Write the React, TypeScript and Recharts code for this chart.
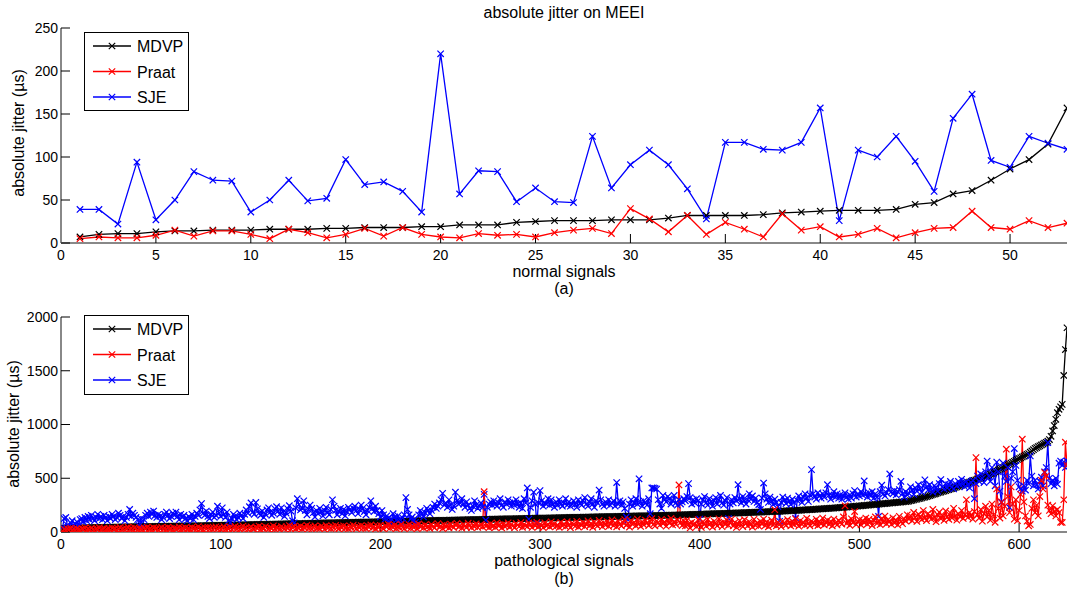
import React from "react";
import { LineChart, Line, XAxis, YAxis } from "recharts";

// (a) normal signals, 53 recordings
const normalMdvp = [
  7, 10, 11, 11, 13, 14, 14, 15, 15, 15, 16, 16, 16, 17, 17, 18, 18, 18, 19, 19,
  21, 21, 21, 24, 25, 26, 26, 26, 27, 27, 27, 29, 32, 32, 32, 32, 33, 35, 36, 37,
  38, 38, 38, 39, 45, 47, 57, 61, 73, 86, 97, 115, 157,
];
const normalPraat = [
  5, 7, 6, 6, 9, 15, 8, 14, 14, 10, 5, 16, 12, 6, 10, 17, 8, 18, 10, 7,
  6, 11, 9, 10, 7, 12, 15, 17, 11, 40, 28, 13, 32, 10, 24, 16, 7, 34, 15, 19,
  7, 10, 17, 6, 12, 17, 18, 37, 18, 16, 26, 18, 23,
];
const normalSje = [
  39, 39, 22, 94, 27, 50, 83, 73, 72, 36, 50, 73, 49, 52, 97, 68, 71, 60, 36, 220,
  57, 84, 83, 48, 64, 48, 47, 124, 64, 91, 108, 91, 63, 28, 117, 117, 109, 108, 117, 157,
  26, 108, 100, 124, 95, 60, 145, 173, 96, 88, 124, 116, 109,
];

// (b) pathological signals, 630 recordings
const patholMdvp = [
  33, 34, 34, 35, 35, 36, 36, 37, 37, 38, 38, 38, 39, 39, 39, 40, 40, 40, 41, 41,
  41, 42, 42, 42, 43, 43, 43, 44, 44, 44, 45, 45, 45, 46, 46, 46, 46, 47, 47, 47,
  47, 48, 48, 48, 48, 49, 49, 49, 49, 50, 50, 50, 50, 50, 51, 51, 51, 51, 52, 52,
  52, 52, 52, 53, 53, 53, 53, 54, 54, 54, 54, 55, 55, 55, 55, 56, 56, 56, 56, 57,
  57, 57, 57, 58, 58, 58, 58, 59, 59, 59, 59, 60, 60, 60, 61, 61, 61, 61, 62, 62,
  62, 63, 63, 63, 64, 64, 64, 65, 65, 65, 66, 66, 66, 67, 67, 67, 68, 68, 68, 69,
  69, 69, 70, 70, 70, 71, 71, 71, 72, 72, 72, 73, 73, 73, 74, 74, 74, 75, 75, 75,
  76, 76, 76, 77, 77, 77, 78, 78, 78, 79, 79, 79, 80, 80, 80, 81, 81, 81, 82, 82,
  82, 83, 83, 83, 84, 84, 84, 85, 85, 85, 86, 86, 86, 87, 87, 87, 88, 88, 88, 89,
  89, 89, 90, 90, 90, 91, 91, 91, 92, 92, 92, 93, 93, 93, 94, 94, 94, 95, 95, 95,
  96, 96, 96, 97, 97, 97, 98, 98, 98, 99, 99, 99, 100, 100, 100, 101, 101, 101, 102, 102,
  102, 103, 103, 103, 104, 104, 104, 105, 105, 105, 106, 106, 106, 107, 107, 107, 108, 108, 108, 109,
  109, 109, 110, 110, 110, 111, 111, 111, 112, 112, 112, 113, 113, 113, 114, 114, 114, 115, 115, 115,
  116, 116, 116, 117, 117, 117, 118, 118, 118, 119, 119, 119, 120, 120, 120, 121, 121, 121, 122, 122,
  122, 123, 123, 123, 124, 124, 124, 125, 125, 125, 126, 126, 126, 127, 127, 127, 128, 128, 128, 129,
  129, 129, 130, 130, 130, 131, 131, 131, 132, 132, 132, 133, 133, 133, 134, 134, 134, 135, 135, 135,
  136, 136, 136, 137, 137, 137, 138, 138, 138, 139, 139, 139, 140, 140, 140, 141, 141, 141, 142, 142,
  142, 143, 143, 143, 144, 144, 144, 145, 145, 145, 146, 146, 146, 147, 147, 147, 148, 148, 148, 149,
  149, 149, 150, 150, 150, 151, 151, 151, 152, 152, 152, 153, 153, 153, 154, 154, 154, 155, 155, 155,
  156, 156, 157, 157, 158, 158, 159, 159, 160, 160, 161, 161, 162, 162, 163, 163, 164, 164, 165, 165,
  166, 166, 167, 167, 168, 168, 169, 169, 170, 170, 171, 171, 172, 172, 173, 173, 174, 174, 175, 175,
  176, 176, 177, 177, 178, 178, 179, 180, 180, 181, 181, 182, 183, 183, 184, 184, 185, 186, 186, 187,
  187, 188, 189, 189, 190, 191, 191, 192, 193, 193, 194, 195, 195, 196, 197, 198, 198, 199, 200, 201,
  201, 202, 203, 204, 205, 205, 206, 207, 208, 209, 210, 211, 212, 213, 214, 215, 216, 217, 218, 219,
  220, 221, 222, 223, 224, 225, 227, 228, 229, 230, 231, 232, 234, 235, 236, 237, 239, 240, 241, 243,
  244, 245, 247, 248, 250, 251, 252, 254, 255, 257, 258, 259, 261, 262, 264, 265, 266, 268, 269, 271,
  272, 273, 275, 276, 278, 279, 280, 282, 283, 285, 288, 292, 295, 299, 303, 306, 310, 313, 317, 321,
  325, 330, 334, 339, 344, 349, 353, 358, 363, 368, 372, 377, 381, 386, 391, 395, 400, 404, 409, 414,
  419, 425, 431, 436, 442, 447, 453, 459, 464, 470, 475, 481, 486, 492, 497, 503, 508, 514, 519, 525,
  532, 539, 546, 553, 560, 568, 576, 584, 592, 600, 608, 616, 624, 632, 640, 649, 658, 666, 675, 683,
  690, 698, 706, 714, 722, 730, 742, 754, 766, 778, 786, 794, 802, 810, 818, 826, 834, 845, 860, 890,
  940, 990, 1048, 1110, 1141, 1165, 1187, 1456, 1697, 1900,
];
const patholPraat = [
  10, 25, 15, 30, 20, 35, 12, 28, 18, 32, 22, 15, 30, 25, 38, 18, 28, 20, 35, 24,
  15, 30, 22, 40, 18, 28, 35, 20, 26, 32, 18, 38, 25, 30, 15, 28, 42, 22, 32, 20,
  30, 45, 25, 35, 20, 40, 28, 18, 34, 26, 22, 38, 30, 45, 25, 32, 20, 40, 28, 35,
  18, 30, 42, 25, 35, 22, 45, 28, 32, 20, 38, 26, 30, 48, 22, 35, 28, 40, 25, 32,
  20, 42, 30, 36, 25, 50, 28, 34, 22, 40, 30, 45, 26, 38, 20, 34, 48, 28, 40, 25,
  32, 50, 24, 38, 30, 45, 22, 36, 52, 28, 40, 26, 35, 55, 30, 42, 25, 38, 48, 32,
  28, 45, 35, 55, 22, 40, 30, 50, 36, 26, 42, 32, 58, 28, 45, 36, 24, 50, 38, 30,
  48, 34, 60, 26, 40, 52, 30, 44, 36, 55, 28, 46, 38, 62, 32, 50, 26, 42, 58, 35,
  40, 30, 55, 45, 25, 60, 38, 48, 32, 52, 36, 62, 42, 28, 50, 40, 58, 34, 46, 30,
  55, 38, 64, 44, 30, 52, 40, 60, 36, 48, 32, 58, 45, 66, 38, 50, 28, 56, 42, 62,
  40, 30, 60, 48, 70, 36, 55, 42, 65, 32, 50, 40, 72, 46, 30, 58, 44, 68, 36, 54,
  42, 62, 30, 75, 48, 56, 38, 66, 44, 52, 34, 70, 50, 40, 62, 78, 45, 55, 32, 68,
  48, 60, 38, 74, 52, 42, 66, 80, 46, 58, 36, 70, 54, 44, 82, 60, 40, 64, 50, 76,
  42, 58, 70, 48, 375, 55, 66, 40, 78, 52, 60, 44, 84, 56, 68, 38, 74, 50, 62, 86,
  46, 70, 58, 40, 80, 64, 52, 88, 44, 72, 60, 50, 84, 66, 42, 76, 58, 90, 48, 70,
  62, 40, 86, 56, 72, 48, 94, 60, 78, 52, 66, 44, 90, 58, 76, 50, 96, 64, 40, 82,
  70, 54, 100, 46, 78, 62, 88, 50, 72, 104, 58, 80, 44, 92, 68, 56, 108, 74, 50, 86,
  64, 96, 52, 78, 112, 60, 84, 48, 100, 70, 56, 88, 116, 62, 80, 46, 104, 72, 90, 58,
  120, 76, 52, 94, 66, 110, 84, 60, 98, 124, 70, 56, 102, 86, 64, 118, 78, 94, 54, 108,
  82, 126, 66, 96, 72, 112, 438, 88, 60, 104, 56, 110, 72, 38, 90, 64, 80, 50, 114, 70,
  42, 96, 76, 54, 118, 68, 86, 46, 100, 74, 58, 122, 80, 50, 94, 72, 110, 62, 88, 120,
  58, 88, 42, 74, 106, 66, 50, 114, 80, 56, 94, 70, 46, 118, 62, 86, 54, 100, 74, 120,
  60, 92, 48, 80, 110, 66, 207, 58, 90, 70, 50, 102, 74, 62, 116, 84, 56, 98, 68, 122,
  80, 54, 106, 72, 90, 64, 126, 78, 58, 100, 86, 70, 118, 60, 96, 76, 130, 66, 88, 110,
  72, 100, 58, 120, 82, 66, 108, 90, 74, 140, 244, 80, 104, 62, 122, 88, 190, 70, 98, 114,
  66, 106, 86, 130, 74, 118, 94, 60, 110, 140, 80, 102, 68, 126, 90, 148, 76, 116, 98, 70,
  132, 84, 110, 66, 146, 96, 78, 122, 102, 160, 120, 150, 104, 182, 136, 98, 166, 142, 116, 200,
  130, 106, 172, 148, 120, 210, 138, 96, 160, 184, 124, 152, 108, 196, 140, 118, 176, 132, 220, 150,
  110, 168, 142, 200, 126, 160, 300, 136, 180, 150, 120, 190, 692, 160, 130, 210, 100, 170, 240, 140,
  200, 110, 260, 160, 90, 400, 220, 130, 280, 150, 240, 770, 330, 180, 420, 260, 120, 300, 105, 200,
  350, 863, 280, 150, 100, 58, 70, 220, 300, 180, 250, 150, 330, 480, 400, 553, 520, 250, 200, 170,
  244, 190, 150, 210, 180, 90, 89, 300, 835, 620,
];
const patholSje = [
  45, 125, 135, 65, 50, 85, 105, 55, 75, 95, 65, 115, 125, 95, 135, 105, 145, 115, 155, 125,
  105, 135, 165, 125, 145, 115, 155, 135, 105, 145, 125, 165, 145, 115, 135, 175, 155, 125, 145, 105,
  135, 165, 210, 145, 175, 155, 135, 115, 60, 125, 50, 115, 155, 175, 145, 185, 165, 195, 155, 135,
  165, 145, 115, 135, 165, 185, 155, 125, 145, 175, 155, 185, 145, 115, 165, 135, 155, 125, 105, 145,
  125, 165, 115, 145, 175, 155, 205, 265, 175, 155, 195, 145, 125, 165, 185, 135, 155, 240, 175, 145,
  225, 165, 135, 185, 105, 85, 125, 165, 145, 115, 135, 175, 155, 125, 165, 205, 175, 235, 270, 185,
  165, 275, 215, 175, 155, 195, 135, 165, 205, 225, 185, 155, 175, 215, 235, 195, 165, 225, 185, 145,
  175, 215, 245, 195, 105, 85, 225, 310, 255, 205, 220, 290, 200, 160, 210, 250, 220, 180, 140, 200,
  170, 220, 190, 150, 200, 230, 180, 160, 210, 300, 240, 200, 160, 190, 220, 170, 210, 150, 190, 230,
  210, 180, 220, 240, 200, 170, 210, 250, 220, 190, 160, 200, 230, 290, 220, 190, 240, 200, 170, 140,
  200, 160, 120, 150, 130, 90, 120, 170, 140, 110, 150, 120, 80, 130, 160, 320, 210, 160, 120, 140,
  110, 90, 70, 160, 200, 170, 140, 180, 220, 200, 170, 200, 230, 260, 220, 240, 270, 300, 360, 250,
  270, 230, 300, 250, 210, 240, 370, 290, 260, 270, 310, 260, 230, 280, 250, 220, 200, 240, 290, 250,
  220, 240, 270, 230, 350, 110, 230, 260, 280, 250, 290, 260, 240, 270, 310, 250, 230, 280, 260, 300,
  270, 240, 280, 250, 300, 260, 230, 270, 220, 310, 270, 410, 120, 230, 290, 370, 260, 80, 270, 385,
  290, 240, 270, 260, 310, 250, 300, 260, 230, 280, 250, 300, 260, 240, 270, 310, 250, 280, 240, 260,
  290, 260, 230, 300, 270, 250, 290, 320, 260, 240, 280, 310, 260, 230, 290, 270, 390, 300, 260, 240,
  280, 260, 300, 250, 270, 290, 240, 460, 260, 290, 250, 280, 220, 140, 115, 260, 300, 240, 270, 310,
  260, 495, 280, 240, 290, 270, 250, 310, 170, 410, 410, 405, 400, 300, 260, 220, 340, 300, 280, 330,
  310, 260, 290, 340, 270, 250, 300, 260, 280, 310, 290, 330, 450, 320, 260, 300, 270, 310, 290, 120,
  260, 300, 330, 270, 250, 310, 280, 240, 290, 320, 260, 300, 340, 270, 250, 290, 320, 125, 260, 300,
  270, 320, 290, 440, 310, 270, 330, 290, 260, 300, 355, 305, 335, 285, 315, 275, 255, 210, 315, 455,
  355, 305, 275, 325, 285, 255, 305, 275, 235, 100, 275, 325, 295, 265, 315, 285, 255, 305, 275, 130,
  295, 335, 305, 275, 325, 355, 315, 285, 345, 580, 355, 325, 305, 365, 335, 315, 355, 325, 365, 440,
  345, 305, 335, 375, 325, 355, 315, 345, 305, 335, 365, 325, 305, 345, 315, 355, 385, 325, 355, 335,
  375, 345, 475, 355, 325, 365, 335, 375, 315, 355, 325, 145, 375, 435, 355, 335, 365, 395, 540, 375,
  355, 385, 345, 375, 395, 470, 355, 325, 375, 345, 360, 420, 390, 350, 410, 380, 440, 400, 370, 430,
  485, 420, 390, 440, 400, 370, 430, 410, 380, 450, 488, 420, 400, 450, 410, 440, 470, 420, 400, 450,
  430, 470, 440, 490, 450, 420, 470, 440, 410, 460, 480, 310, 450, 520, 470, 540, 500, 460, 560, 660,
  520, 470, 600, 540, 430, 650, 560, 380, 275, 640, 520, 470, 600, 228, 500, 560, 776, 620, 480, 420,
  400, 380, 430, 390, 480, 450, 708, 520, 430, 480, 440, 400, 470, 510, 430, 560, 600, 831, 500, 450,
  480, 430, 500, 445, 640, 660, 620, 650, 600, 661,
];

const normalTicksX = [0, 5, 10, 15, 20, 25, 30, 35, 40, 45, 50];
const normalTicksY = [0, 50, 100, 150, 200, 250];
const patholTicksX = [0, 100, 200, 300, 400, 500, 600];
const patholTicksY = [0, 500, 1000, 1500, 2000];

const series = [
  { key: "mdvp", name: "MDVP", color: "#000000" },
  { key: "sje", name: "SJE", color: "#0000ff" },
  { key: "praat", name: "Praat", color: "#ff0000" },
];
const legendOrder = ["MDVP", "Praat", "SJE"];

const W = 1067;
const H = 592;
const FONT = "'Liberation Sans', Arial, Helvetica, sans-serif";

function toRows(mdvp: number[], praat: number[], sje: number[]) {
  const n = Math.max(mdvp.length, praat.length, sje.length);
  const rows = [];
  for (let i = 0; i < n; i++) {
    rows.push({ x: i + 1, mdvp: mdvp[i], praat: praat[i], sje: sje[i] });
  }
  return rows;
}

const normalRows = toRows(normalMdvp, normalPraat, normalSje);
const patholRows = toRows(patholMdvp, patholPraat, patholSje);

const crossPath = (x: number, y: number, r = 3.2) =>
  `M${x - r},${y - r}L${x + r},${y + r}M${x - r},${y + r}L${x + r},${y - r}`;

const crossDot = (color: string) => (props: any) => {
  const { cx, cy, index } = props;
  if (cx == null || cy == null || isNaN(cx) || isNaN(cy)) return <g key={index} />;
  return (
    <path key={index} d={crossPath(cx, cy)} stroke={color} strokeWidth={1.2} fill="none" />
  );
};

interface PanelProps {
  rows: any[];
  top: number;
  xMax: number;
  xTicks: number[];
  yMax: number;
  yTicks: number[];
}

function Panel({ rows, top, xMax, xTicks, yMax, yTicks }: PanelProps) {
  const axisLine = { stroke: "#888888", strokeWidth: 2 };
  const tickLine = { stroke: "#000000" };
  const tick = { fill: "#000000", fontSize: 14 };
  return (
    <div style={{ position: "absolute", left: 0, top, width: W, height: 290 }}>
      <LineChart
        width={W}
        height={290}
        data={rows}
        margin={{ top: 28, right: 0, bottom: 0, left: 0 }}
      >
        <XAxis
          type="number"
          dataKey="x"
          domain={[0, xMax]}
          ticks={xTicks}
          interval={0}
          allowDataOverflow
          height={47}
          tickSize={-9}
          tickMargin={16}
          axisLine={axisLine}
          tickLine={tickLine}
          tick={tick}
        />
        <YAxis
          type="number"
          domain={[0, yMax]}
          ticks={yTicks}
          interval={0}
          allowDataOverflow
          width={61}
          tickSize={-9}
          tickMargin={12}
          axisLine={axisLine}
          tickLine={tickLine}
          tick={tick}
        />
        {series.map((s) => (
          <Line
            key={s.key}
            type="linear"
            dataKey={s.key}
            stroke={s.color}
            strokeWidth={1.3}
            dot={crossDot(s.color)}
            activeDot={false}
            isAnimationActive={false}
          />
        ))}
      </LineChart>
    </div>
  );
}

function LegendBox({ top, height }: { top: number; height: number }) {
  return (
    <g>
      <rect x={84.5} y={top + 0.5} width={104} height={height} fill="#ffffff" stroke="#000000" />
      {legendOrder.map((name, i) => {
        const s = series.find((d) => d.name === name)!;
        const y = top + 14 + i * 25.5;
        return (
          <g key={name}>
            <line x1={93} x2={131} y1={y} y2={y} stroke={s.color} strokeWidth={1.3} />
            <path d={crossPath(112, y)} stroke={s.color} strokeWidth={1.2} fill="none" />
            <text x={137} y={y + 6} fontSize={16} fill="#000000">
              {name}
            </text>
          </g>
        );
      })}
    </g>
  );
}

export default function App() {
  return (
    <div
      style={{
        position: "absolute",
        left: 0,
        top: 0,
        width: W,
        height: H,
        background: "#ffffff",
        fontFamily: FONT,
        overflow: "hidden",
      }}
    >
      <Panel rows={normalRows} top={0} xMax={53} xTicks={normalTicksX} yMax={250} yTicks={normalTicksY} />
      <Panel rows={patholRows} top={289} xMax={630} xTicks={patholTicksX} yMax={2000} yTicks={patholTicksY} />
      <svg
        width={W}
        height={H}
        style={{ position: "absolute", left: 0, top: 0, pointerEvents: "none" }}
        fontFamily={FONT}
      >
        <text x={564} y={18} textAnchor="middle" fontSize={16} fill="#000">
          absolute jitter on MEEI
        </text>
        <text x={564} y={277} textAnchor="middle" fontSize={16} fill="#000">
          normal signals
        </text>
        <text x={564} y={294} textAnchor="middle" fontSize={16} fill="#000">
          (a)
        </text>
        <text x={564} y={566} textAnchor="middle" fontSize={16} fill="#000">
          pathological signals
        </text>
        <text x={564} y={584} textAnchor="middle" fontSize={16} fill="#000">
          (b)
        </text>
        <text x={24} y={133} textAnchor="middle" fontSize={16} fill="#000" transform="rotate(-90 24 133)">
          absolute jitter (µs)
        </text>
        <text x={19} y={424} textAnchor="middle" fontSize={16} fill="#000" transform="rotate(-90 19 424)">
          absolute jitter (µs)
        </text>
        <LegendBox top={32} height={78} />
        <LegendBox top={315} height={79} />
      </svg>
    </div>
  );
}
